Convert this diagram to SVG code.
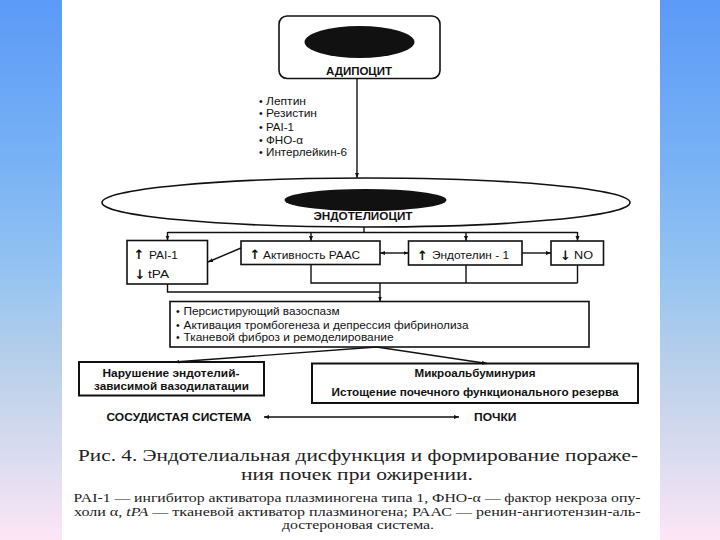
<svg xmlns="http://www.w3.org/2000/svg" width="720" height="540" viewBox="0 0 720 540">
<defs>
<linearGradient id="bg" x1="0" y1="0" x2="0" y2="1">
<stop offset="0" stop-color="#5b9af7"/>
<stop offset="0.3" stop-color="#78b2f5"/>
<stop offset="0.5" stop-color="#94c3f2"/>
<stop offset="0.68" stop-color="#b9d0ea"/>
<stop offset="0.85" stop-color="#dcdcf0"/>
<stop offset="1" stop-color="#fce6f6"/>
</linearGradient>
<marker id="ah" viewBox="0 0 10 10" refX="10" refY="5" markerWidth="5" markerHeight="5" orient="auto-start-reverse" markerUnits="userSpaceOnUse">
<path d="M0,1 L10,5 L0,9 z" fill="#111"/>
</marker>
</defs>
<style>
.box{fill:#fff;stroke:#111;stroke-width:1.6}
.box2{fill:#fff;stroke:#111;stroke-width:2}
.ln{fill:none;stroke:#111;stroke-width:1.4}
.t{font-family:"Liberation Sans",Arial,sans-serif;font-size:10.5px;fill:#111}
.b{font-weight:bold}
.c{text-anchor:middle}
.ar{font-family:"DejaVu Sans",sans-serif;font-size:13px;font-weight:bold}
.s{font-family:"Liberation Serif","Times New Roman",serif;fill:#222}
</style>
<rect x="0" y="0" width="720" height="540" fill="url(#bg)"/>
<rect x="62" y="0" width="598" height="540" fill="#fff"/>

<g id="adipocyte">
<rect class="box" x="279" y="16" width="161" height="62.5" rx="8"/>
<ellipse cx="359.5" cy="42" rx="55" ry="16" fill="#111"/>
<text class="t b c" x="359" y="74.5" font-size="11" textLength="66" lengthAdjust="spacingAndGlyphs">АДИПОЦИТ</text>
</g>

<g id="factors">
<text class="t" x="259" y="105.4">• <tspan x="266" textLength="40" lengthAdjust="spacingAndGlyphs">Лептин</tspan></text>
<text class="t" x="259" y="117.4">• <tspan x="266" textLength="51" lengthAdjust="spacingAndGlyphs">Резистин</tspan></text>
<text class="t" x="259" y="130.5">• <tspan x="266" textLength="28" lengthAdjust="spacingAndGlyphs">PAI-1</tspan></text>
<text class="t" x="259" y="143.6">• <tspan x="266" textLength="37" lengthAdjust="spacingAndGlyphs">ФНО-α</tspan></text>
<text class="t" x="259" y="156.3">• <tspan x="266" textLength="81" lengthAdjust="spacingAndGlyphs">Интерлейкин-6</tspan></text>
</g>

<g id="endothelium">
<ellipse cx="366" cy="202.5" rx="264" ry="24.5" fill="#fff" stroke="#111" stroke-width="1.6"/>
<ellipse cx="365.5" cy="200" rx="81" ry="11" fill="#111"/>
<text class="t b c" x="363" y="219.5" font-size="11" textLength="99" lengthAdjust="spacingAndGlyphs">ЭНДОТЕЛИОЦИТ</text>
</g>

<g id="pai">
<rect class="box" x="127" y="240.5" width="80.5" height="43.5"/>
<text class="t ar" x="133.5" y="259">↑</text>
<text class="t" x="149" y="258.5" textLength="29" lengthAdjust="spacingAndGlyphs">PAI-1</text>
<text class="t ar" x="134.5" y="279">↓</text>
<text class="t" x="148" y="278" textLength="21" lengthAdjust="spacingAndGlyphs">tPA</text>
</g>
<g id="raas">
<rect class="box" x="241" y="241" width="139" height="23.5"/>
<text class="t ar" x="249.5" y="259">↑</text>
<text class="t" x="263" y="258.5" textLength="97" lengthAdjust="spacingAndGlyphs">Активность РААС</text>
</g>
<g id="endothelin">
<rect class="box" x="408.5" y="241" width="113.5" height="24"/>
<text class="t ar" x="417" y="260">↑</text>
<text class="t" x="432" y="259" textLength="77" lengthAdjust="spacingAndGlyphs">Эндотелин - 1</text>
</g>
<g id="no">
<rect class="box" x="551" y="241" width="52.5" height="24"/>
<text class="t ar" x="560" y="260">↓</text>
<text class="t" x="574" y="259" textLength="19" lengthAdjust="spacingAndGlyphs">NO</text>
</g>

<g id="effects">
<rect class="box" x="170" y="301.5" width="419" height="45.5"/>
<text class="t" x="176" y="315.3">• <tspan x="183.5" textLength="156" lengthAdjust="spacingAndGlyphs">Персистирующий вазоспазм</tspan></text>
<text class="t" x="176" y="328.5">• <tspan x="183.5" textLength="285" lengthAdjust="spacingAndGlyphs">Активация тромбогенеза и депрессия фибринолиза</tspan></text>
<text class="t" x="176" y="341.3">• <tspan x="183.5" textLength="210" lengthAdjust="spacingAndGlyphs">Тканевой фиброз и ремоделирование</tspan></text>
</g>

<g id="vascular">
<rect class="box2" x="79" y="362" width="185" height="33.5"/>
<text class="t b c" x="171" y="376.8" textLength="137" lengthAdjust="spacingAndGlyphs">Нарушение эндотелий-</text>
<text class="t b c" x="171.5" y="389.5" textLength="155" lengthAdjust="spacingAndGlyphs">зависимой вазодилатации</text>
</g>
<g id="kidney">
<rect class="box2" x="312" y="363.5" width="326" height="39.5"/>
<text class="t b c" x="475" y="377.4" textLength="121" lengthAdjust="spacingAndGlyphs">Микроальбуминурия</text>
<text class="t b c" x="475" y="396.4" textLength="287" lengthAdjust="spacingAndGlyphs">Истощение почечного функционального резерва</text>
</g>

<g id="labels">
<text class="t b" x="106.5" y="420.7" textLength="145" lengthAdjust="spacingAndGlyphs">СОСУДИСТАЯ СИСТЕМА</text>
<text class="t b" x="474" y="420.7" textLength="42.5" lengthAdjust="spacingAndGlyphs">ПОЧКИ</text>
</g>

<g id="connectors">
<line class="ln" x1="357" y1="78.5" x2="357" y2="178" marker-end="url(#ah)"/>
<line class="ln" x1="364" y1="227" x2="364" y2="232.5"/>
<line class="ln" x1="167.5" y1="232.5" x2="577.5" y2="232.5"/>
<line class="ln" x1="167.5" y1="232" x2="167.5" y2="240.5" marker-end="url(#ah)"/>
<line class="ln" x1="311" y1="232" x2="311" y2="241" marker-end="url(#ah)"/>
<line class="ln" x1="466" y1="232" x2="466" y2="241" marker-end="url(#ah)"/>
<line class="ln" x1="577.5" y1="232" x2="577.5" y2="241" marker-end="url(#ah)"/>
<line class="ln" x1="380" y1="253" x2="408.5" y2="253" marker-start="url(#ah)" marker-end="url(#ah)"/>
<line class="ln" x1="522" y1="253" x2="551" y2="253" marker-end="url(#ah)"/>
<line class="ln" x1="241" y1="248" x2="208" y2="262" marker-end="url(#ah)"/>
<polyline class="ln" points="311,264.5 311,283 577.5,283"/>
<line class="ln" x1="466" y1="265" x2="466" y2="283"/>
<line class="ln" x1="577.5" y1="265" x2="577.5" y2="283"/>
<polyline class="ln" points="167.5,284 167.5,292 380,292"/>
<line class="ln" x1="380" y1="283" x2="380" y2="301.5" marker-end="url(#ah)"/>
<line class="ln" x1="376.5" y1="347" x2="174.5" y2="362" marker-end="url(#ah)"/>
<line class="ln" x1="376.5" y1="347" x2="487" y2="363.5" marker-end="url(#ah)"/>
<line class="ln" x1="264" y1="417" x2="459" y2="417" stroke-width="1" marker-start="url(#ah)" marker-end="url(#ah)"/>
</g>

<g id="caption">
<text class="s" x="78" y="461" font-size="17.5" textLength="560" lengthAdjust="spacingAndGlyphs">Рис. 4. Эндотелиальная дисфункция и формирование пораже-</text>
<text class="s" x="241" y="479.5" font-size="17.5" textLength="232" lengthAdjust="spacingAndGlyphs">ния почек при ожирении.</text>
<text class="s" x="73.5" y="501.6" font-size="12" textLength="567" lengthAdjust="spacingAndGlyphs">PAI-1 — ингибитор активатора плазминогена типа 1, ФНО-α — фактор некроза опу-</text>
<text class="s" x="74" y="516" font-size="12" textLength="566.5" lengthAdjust="spacingAndGlyphs">холи α, <tspan font-style="italic">tPA</tspan> — тканевой активатор плазминогена; РААС — ренин-ангиотензин-аль-</text>
<text class="s" x="282" y="529" font-size="12" textLength="152" lengthAdjust="spacingAndGlyphs">достероновая система.</text>
</g>
</svg>
